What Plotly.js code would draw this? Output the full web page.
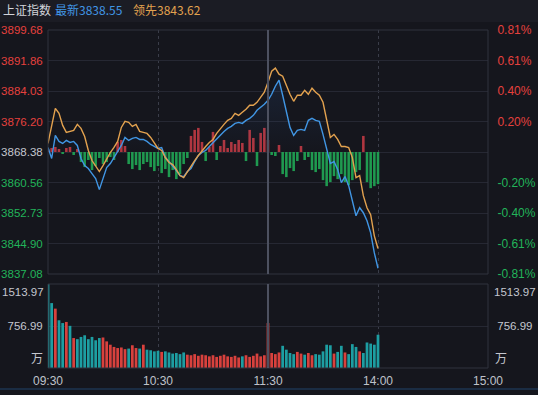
<!DOCTYPE html>
<html>
<head>
<meta charset="utf-8">
<script src="https://cdn.plot.ly/plotly-3.0.1.min.js"></script>
<style>
html,body{margin:0;padding:0;background:#15161d;}
#chart{width:538px;height:395px;}
</style>
</head>
<body>
<div id="chart"></div>
<script>
// ---------- data ----------
const indexName = '上证指数';
const latestLabel = '最新';
const leadLabel = '领先';
const prevClose = 3868.38;
const priceTicks = [3837.08, 3844.90, 3852.73, 3860.56, 3868.38, 3876.20, 3884.03, 3891.86, 3899.68];
const volumeMax = 1513.97;
const volumeMid = 756.99;
const volumeUnit = '万';
const timeTickMinutes = [0, 60, 120, 180, 240];
const timeTickLabels = ['09:30', '10:30', '11:30', '14:00', '15:00'];

// minutes since 09:30 (trading minutes, lunch break removed)
const minutes = [0,2,4,6,8,10,12,14,16,18,20,22,24,26,28,30,32,34,36,38,
  40,42,44,46,48,50,52,54,56,58,60,62,64,66,68,70,72,74,76,78,
  80,82,84,86,88,90,92,94,96,98,100,102,104,106,108,110,112,114,116,118,
  120,122,124,126,128,130,132,134,136,138,140,142,144,146,148,150,152,154,156,158,
  160,162,164,166,168,170,172,174,176,178,180];

const latest = [3869.54,3866.71,3872.63,3871.09,3870.57,3871.34,3870.83,3871.09,3870.06,3866.71,
  3864.90,3864.13,3862.84,3861.56,3858.72,3861.56,3864.39,3865.42,3866.96,3868.25,
  3870.06,3872.12,3871.34,3871.86,3872.12,3871.60,3871.60,3871.09,3870.31,3869.80,
  3869.28,3869.54,3866.96,3865.93,3864.90,3863.62,3862.33,3862.07,3863.36,3864.13,
  3865.93,3867.48,3868.25,3868.77,3869.80,3870.83,3871.86,3872.63,3873.66,3874.44,
  3874.95,3875.72,3875.98,3875.72,3876.50,3877.01,3877.78,3879.07,3879.84,3880.62,
  3881.65,3883.19,3885.25,3886.80,3882.94,3879.07,3874.69,3872.63,3873.92,3874.18,
  3873.92,3876.50,3877.01,3876.50,3876.24,3872.89,3869.28,3865.42,3865.93,3863.87,
  3860.52,3862.07,3859.75,3855.89,3852.02,3854.08,3852.80,3850.74,3847.64,3842.49,
  3838.55];

const lead = [3870.57,3875.21,3879.59,3878.30,3875.21,3873.40,3873.66,3873.92,3875.47,3874.44,
  3872.37,3868.77,3866.19,3864.90,3863.36,3864.90,3866.71,3868.25,3869.54,3871.09,
  3874.69,3876.24,3875.98,3874.95,3875.47,3873.66,3873.40,3873.15,3872.12,3870.83,
  3869.28,3868.77,3866.96,3865.68,3865.16,3863.87,3862.33,3861.81,3863.36,3864.65,
  3866.19,3867.48,3868.77,3869.80,3870.83,3871.60,3873.15,3874.44,3875.47,3876.50,
  3877.01,3878.30,3877.78,3878.56,3879.33,3880.36,3880.36,3881.13,3882.42,3883.71,
  3886.28,3889.12,3889.89,3888.35,3887.83,3885.51,3883.19,3881.39,3882.94,3882.94,
  3884.22,3883.19,3884.74,3883.71,3882.94,3881.13,3876.50,3872.12,3872.89,3871.60,
  3869.80,3869.80,3869.54,3866.96,3861.81,3862.33,3857.18,3854.08,3852.28,3846.87,
  3843.62];

// buy/sell strength bars (arbitrary units, full half-scale = 121.5)
const strength = [3,4,5,3,-2,4,5,-3,3,-10,-15,-8,-18,-14,-6,-12,-10,-5,-8,10,
  12,6,-12,-17,-13,-18,-12,-10,-15,-19,-14,-21,-17,-25,-18,-27,-22,-12,-6,16,
  22,24,10,-9,5,20,-8,6,12,4,10,8,12,9,-9,22,14,-14,19,24,
  12,-3,-4,7,-22,-25,-16,-19,-9,6,-8,-5,-18,-20,-17,-28,-34,-30,-24,-27,
  -22,-30,-33,-28,-20,-18,16,-30,-36,-34,-32];
const strengthHalfScale = 121.5;

const volume = [1513.97,1170,1070,860,810,830,760,540,520,560,590,520,560,500,540,550,480,420,380,360,
  370,340,350,410,360,350,420,330,320,300,310,290,300,280,260,270,250,280,240,230,
  250,220,240,230,210,230,200,220,240,210,200,220,190,210,230,200,220,260,210,230,
  810,270,250,280,400,330,270,250,290,260,240,270,230,250,240,300,420,410,260,290,
  400,280,250,430,380,300,270,460,440,420,600];

// ---------- styling ----------
const BG = '#15161d';
const RED = '#e5413d';
const GREEN = '#22b45a';
const GRAY = '#c4c7cf';
const BLUE = '#4196e4';
const ORANGE = '#e3a24f';
const FONT = 'Liberation Sans, Arial, Noto Sans CJK SC, sans-serif';
const CJK = 'Noto Sans CJK SC, Liberation Sans, sans-serif';
const FS = 11.5;

const W = 538, H = 395, ML = 48, MR = 50, MT = 30, MB = 27;
const px2x = p => (p - ML) / (W - ML - MR);
const py2y = p => (H - MB - p) / (H - MT - MB);

const pMin = priceTicks[0], pMax = priceTicks[priceTicks.length - 1];
const half = pMax - prevClose;
const pct = v => (v - prevClose) / prevClose * 100;

const priceTickText = priceTicks.map(v => {
  const c = v > prevClose + 1e-6 ? RED : (v < prevClose - 1e-6 ? GREEN : GRAY);
  return '<span style="color:' + c + '">' + v.toFixed(2) + '</span>';
});
const pctTicksSrc = priceTicks.filter(v => Math.abs(v - prevClose) > 1e-6);
const pctTickVals = pctTicksSrc.map(pct);
const pctTickText = pctTicksSrc.map(v => {
  const c = v > prevClose ? RED : GREEN;
  return '<span style="color:' + c + '">' + pct(v).toFixed(2) + '%</span>';
});

const volColors = volume.map((v, i) => (i > 0 && latest[i] >= latest[i - 1]) ? '#d8413d' : '#1d9ea2');
const strengthLen = strength.map(v => v / strengthHalfScale * half);
const strengthColors = strength.map(v => v >= 0 ? '#b03640' : '#1f9a50');

const traces = [
  {
    type: 'bar', x: minutes, y: strengthLen, base: prevClose,
    xaxis: 'x', yaxis: 'y', width: 1.4,
    marker: {color: strengthColors, line: {width: 0}}, hoverinfo: 'skip'
  },
  {
    type: 'scatter', mode: 'lines', x: minutes, y: latest,
    xaxis: 'x', yaxis: 'y',
    line: {color: BLUE, width: 1.4},
    fill: 'tozeroy',
    fillgradient: {type: 'vertical', start: prevClose, stop: pMax,
      colorscale: [[0, 'rgba(50,105,185,0)'], [1, 'rgba(50,105,185,0.25)']]},
    hoverinfo: 'skip'
  },
  {
    type: 'scatter', mode: 'lines', x: minutes, y: lead,
    xaxis: 'x', yaxis: 'y',
    line: {color: ORANGE, width: 1.4}, hoverinfo: 'skip'
  },
  {
    type: 'scatter', mode: 'markers', x: [0], y: [0], xaxis: 'x', yaxis: 'y3',
    marker: {opacity: 0}, hoverinfo: 'skip'
  },
  {
    type: 'bar', x: minutes, y: volume, xaxis: 'x', yaxis: 'y2', width: 1.5,
    marker: {color: volColors, line: {width: 0}}, hoverinfo: 'skip'
  },
  {
    type: 'scatter', mode: 'markers', x: [0], y: [0], xaxis: 'x', yaxis: 'y4',
    marker: {opacity: 0}, hoverinfo: 'skip'
  }
];

const gridC = '#262833';
const layout = {
  width: W, height: H,
  margin: {l: ML, r: MR, t: MT, b: MB, pad: 0},
  paper_bgcolor: BG, plot_bgcolor: BG,
  showlegend: false, hovermode: false, barmode: 'overlay',
  font: {family: FONT, size: FS, color: GRAY},
  xaxis: {
    range: [0, 240], anchor: 'y2',
    tickvals: timeTickMinutes, ticktext: timeTickLabels,
    showgrid: true, gridcolor: '#3a3d49', griddash: 'dot', gridwidth: 1,
    zeroline: false, showline: false, ticks: '', ticklabelstandoff: 4,
    tickfont: {family: FONT, size: 12, color: '#bfc2ca'}
  },
  yaxis: {
    domain: [py2y(274), 1], range: [pMin, pMax],
    tickvals: priceTicks, ticktext: priceTickText,
    showgrid: true, gridcolor: gridC, zeroline: false, showline: false,
    ticks: 'outside', ticklen: 2, tickcolor: 'rgba(0,0,0,0)',
    tickfont: {family: FONT, size: FS}
  },
  yaxis3: {
    overlaying: 'y', side: 'right', anchor: 'x',
    range: [pct(pMin), pct(pMax)],
    tickvals: pctTickVals, ticktext: pctTickText,
    showgrid: false, zeroline: false, showline: false,
    ticks: 'outside', ticklen: 6, tickcolor: 'rgba(0,0,0,0)',
    tickfont: {family: FONT, size: 12}
  },
  yaxis2: {
    domain: [0, py2y(284)], range: [0, volumeMax],
    tickvals: [volumeMid], ticktext: [volumeMid.toFixed(2)],
    showgrid: true, gridcolor: gridC, zeroline: false, showline: false,
    ticks: 'outside', ticklen: 2, tickcolor: 'rgba(0,0,0,0)',
    tickfont: {family: FONT, size: FS, color: GRAY}
  },
  yaxis4: {
    overlaying: 'y2', side: 'right', anchor: 'x',
    range: [0, volumeMax],
    tickvals: [volumeMid], ticktext: [volumeMid.toFixed(2)],
    showgrid: false, zeroline: false, showline: false,
    ticks: 'outside', ticklen: 6, tickcolor: 'rgba(0,0,0,0)',
    tickfont: {family: FONT, size: FS, color: GRAY}
  },
  shapes: [
    {type: 'rect', xref: 'paper', yref: 'paper', layer: 'below',
      x0: px2x(0), x1: px2x(W), y0: py2y(22), y1: py2y(0),
      fillcolor: '#1b1c24', line: {width: 0}},
    {type: 'rect', xref: 'paper', yref: 'y domain', x0: 0, x1: 1, y0: 0, y1: 1,
      line: {color: '#30333e', width: 1}},
    {type: 'rect', xref: 'paper', yref: 'y2 domain', x0: 0, x1: 1, y0: 0, y1: 1,
      line: {color: '#30333e', width: 1}},
    {type: 'line', xref: 'x', yref: 'y domain', x0: timeTickMinutes[2], x1: timeTickMinutes[2], y0: 0, y1: 1,
      line: {color: '#4d5160', width: 2}},
    {type: 'line', xref: 'x', yref: 'y2 domain', x0: timeTickMinutes[2], x1: timeTickMinutes[2], y0: 0, y1: 1,
      line: {color: '#4d5160', width: 2}},
    {type: 'line', xref: 'paper', yref: 'paper', x0: px2x(0), x1: px2x(W), y0: py2y(389), y1: py2y(389),
      line: {color: '#1d3550', width: 1.5}}
  ],
  annotations: [
    {xref: 'paper', yref: 'paper', x: px2x(1), y: py2y(10), xanchor: 'left', yanchor: 'middle',
      text: indexName, showarrow: false, font: {family: CJK, size: 12, color: '#d2d4da'}},
    {xref: 'paper', yref: 'paper', x: px2x(53), y: py2y(10), xanchor: 'left', yanchor: 'middle',
      text: latestLabel + latest[latest.length - 1].toFixed(2), showarrow: false,
      font: {family: CJK, size: 12, color: BLUE}},
    {xref: 'paper', yref: 'paper', x: px2x(131), y: py2y(10), xanchor: 'left', yanchor: 'middle',
      text: leadLabel + lead[lead.length - 1].toFixed(2), showarrow: false,
      font: {family: CJK, size: 12, color: ORANGE}},
    {xref: 'paper', yref: 'y2 domain', x: 0, y: 1, xanchor: 'right', yanchor: 'top', xshift: -2, yshift: 0,
      text: volumeMax.toFixed(2), showarrow: false, font: {family: FONT, size: FS, color: GRAY}},
    {xref: 'paper', yref: 'y2 domain', x: 0, y: 0, xanchor: 'right', yanchor: 'bottom', xshift: -3,
      text: volumeUnit, showarrow: false, font: {family: CJK, size: 12, color: GRAY}},
    {xref: 'paper', yref: 'y2 domain', x: 1, y: 1, xanchor: 'left', yanchor: 'top', xshift: 4,
      text: volumeMax.toFixed(2), showarrow: false, font: {family: FONT, size: FS, color: GRAY}},
    {xref: 'paper', yref: 'y2 domain', x: 1, y: 0, xanchor: 'left', yanchor: 'bottom', xshift: 5,
      text: volumeUnit, showarrow: false, font: {family: CJK, size: 12, color: GRAY}}
  ]
};

Plotly.newPlot('chart', traces, layout, {staticPlot: true, displayModeBar: false});
</script>
</body>
</html>
